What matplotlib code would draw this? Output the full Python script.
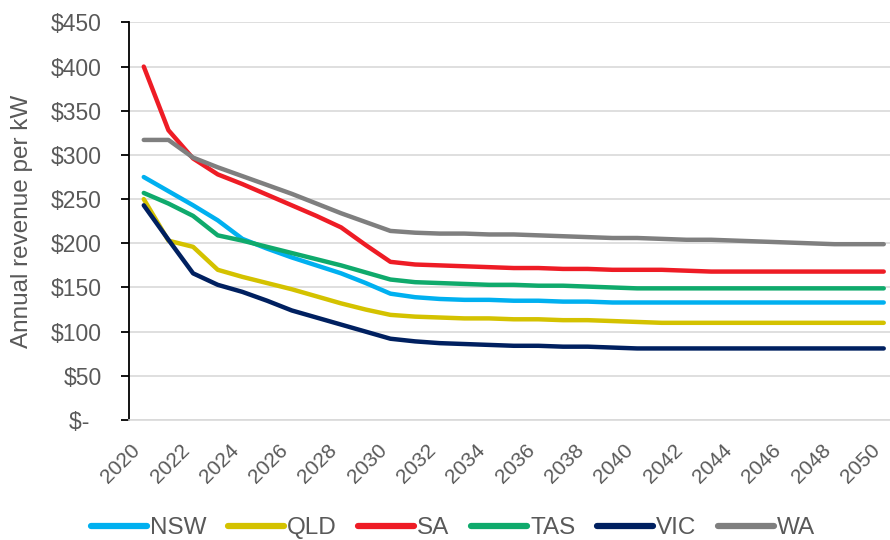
import matplotlib.pyplot as plt
from matplotlib.ticker import FuncFormatter

plt.rcParams['font.family'] = ['Liberation Sans', 'DejaVu Sans']

years = list(range(2020, 2051))

nsw = [275, 259, 243, 226, 205, 194, 184, 175, 166, 155, 143,
       139, 137, 136, 136, 135, 135, 134, 134, 133, 133,
       133, 133, 133, 133, 133, 133, 133, 133, 133, 133]
qld = [250, 203, 196, 170, 162, 155, 148, 140, 132, 125, 119,
       117, 116, 115, 115, 114, 114, 113, 113, 112, 111,
       110, 110, 110, 110, 110, 110, 110, 110, 110, 110]
sa = [400, 328, 296, 278, 267, 255, 243, 231, 218, 198, 179,
      176, 175, 174, 173, 172, 172, 171, 171, 170, 170,
      170, 169, 168, 168, 168, 168, 168, 168, 168, 168]
tas = [257, 245, 231, 209, 203, 196, 189, 182, 175, 167, 159,
       156, 155, 154, 153, 153, 152, 152, 151, 150, 149,
       149, 149, 149, 149, 149, 149, 149, 149, 149, 149]
vic = [243, 204, 166, 153, 145, 135, 124, 116, 108, 100, 92,
       89, 87, 86, 85, 84, 84, 83, 83, 82, 81,
       81, 81, 81, 81, 81, 81, 81, 81, 81, 81]
wa = [317, 317, 297, 286, 276, 266, 256, 245, 234, 224, 214,
      212, 211, 211, 210, 210, 209, 208, 207, 206, 206,
      205, 204, 204, 203, 202, 201, 200, 199, 199, 199]

series = [('NSW', nsw, '#00B0F0'),
          ('QLD', qld, '#D4C200'),
          ('SA', sa, '#EE1C25'),
          ('TAS', tas, '#0FAA6C'),
          ('VIC', vic, '#002060'),
          ('WA', wa, '#7F7F7F')]

grey = '#595959'

fig = plt.figure(figsize=(8.9, 5.4), dpi=100)
ax = fig.add_axes([0.1449, 0.2222, 0.855, 0.7363])

for name, vals, col in series:
    ax.plot(years, vals, color=col, lw=3.2, label=name, solid_capstyle='round')

ax.set_xlim(2019.4, 2050.25)
ax.set_ylim(0, 450)
ax.set_yticks(range(0, 451, 50))
# accounting-style labels: zero shown as a dash, padded on the right
ax.yaxis.set_major_formatter(FuncFormatter(lambda v, p: '$-  ' if v == 0 else f'${int(v)}'))
ax.set_xticks(range(2020, 2051, 2))

ax.grid(axis='y', color='#D9D9D9', lw=1.2)
ax.set_axisbelow(True)
for s in ['top', 'right']:
    ax.spines[s].set_visible(False)
ax.spines['left'].set_color('black')
ax.spines['left'].set_linewidth(1.3)
ax.spines['bottom'].set_color('#D9D9D9')
ax.spines['bottom'].set_linewidth(1.2)

ax.tick_params(axis='y', direction='out', length=5.5, width=1.3, color='black',
               labelsize=16.5, labelcolor=grey, pad=14)
ax.tick_params(axis='x', length=0, labelsize=15, labelcolor=grey, pad=15)
plt.setp(ax.get_xticklabels(), rotation=45, ha='right', va='top')

# axis title placed in figure coords, centred on the plot height
fig.text(22 / 890, 0.5 * (0.2222 + 0.9585), 'Annual revenue per kW', fontsize=17.5,
         color=grey, rotation=90, ha='center', va='center')

leg = fig.legend(loc='center', bbox_to_anchor=(453 / 890, 1 - 528 / 540), ncol=6,
                 frameon=False, fontsize=17.5, labelcolor=grey, handlelength=2.3,
                 handletextpad=0.12, columnspacing=0.9)
for h in leg.get_lines():
    h.set_linewidth(4.5)

fig.savefig('out.png', dpi=100)
